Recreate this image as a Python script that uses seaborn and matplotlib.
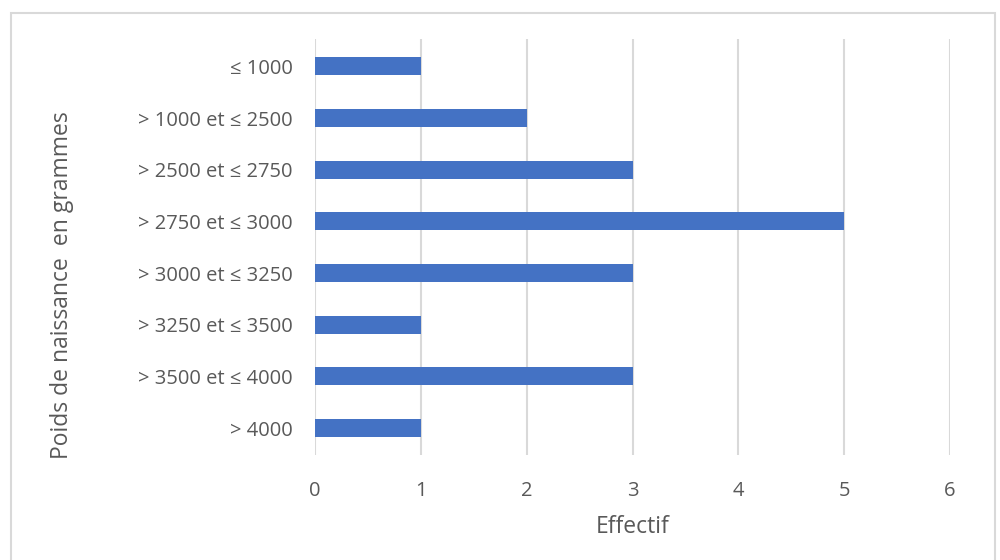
import pandas as pd
import seaborn as sns
import matplotlib.pyplot as plt
from matplotlib.patches import Rectangle

# weight classes (grams) and counts
categories = ["≤ 1000", "> 1000 et ≤ 2500", "> 2500 et ≤ 2750", "> 2750 et ≤ 3000",
              "> 3000 et ≤ 3250", "> 3250 et ≤ 3500", "> 3500 et ≤ 4000", "> 4000"]
effectif = [1, 2, 3, 5, 3, 1, 3, 1]
xticks = [0, 1, 2, 3, 4, 5, 6]

df = pd.DataFrame({"poids": categories, "effectif": effectif})

sns.set_style("white")
plt.rcParams['font.family'] = ['Open Sans', 'DejaVu Sans']
txt = "#595959"
grid = "#d9d9d9"

fig = plt.figure(figsize=(10, 5.6), dpi=100)
ax = fig.add_axes([0.315, 0.1875, 0.635, 0.742])
sns.barplot(data=df, x="effectif", y="poids", orient="h", color="#4472C4",
            width=0.35, saturation=1, linewidth=0, ax=ax)

ax.set_xlim(0, 6)
ax.set_ylim(7.52, -0.52)
ax.set_xticks(xticks)
ax.set_xticklabels([str(t) for t in xticks], color=txt, fontsize=14.5)
ax.tick_params(axis="y", labelsize=14.5, labelcolor=txt, length=0, pad=16)
ax.tick_params(axis="x", length=0, pad=19)
ax.xaxis.grid(True, color=grid, linewidth=1.5)
ax.set_axisbelow(True)
for s in ax.spines.values():
    s.set_visible(False)

ax.set_xlabel("Effectif", color=txt, fontsize=16.5, labelpad=10)
ax.set_ylabel("")
fig.text(0.062, 0.49, "Poids de naissance  en grammes", rotation=90, color=txt,
         fontsize=16.5, ha="center", va="center")

# outer chart border
fig.patches.append(Rectangle((0.011, -0.05), 0.984, 1.026, transform=fig.transFigure,
                             fill=False, edgecolor=grid, linewidth=1.5))

plt.savefig("out.png", dpi=100)
